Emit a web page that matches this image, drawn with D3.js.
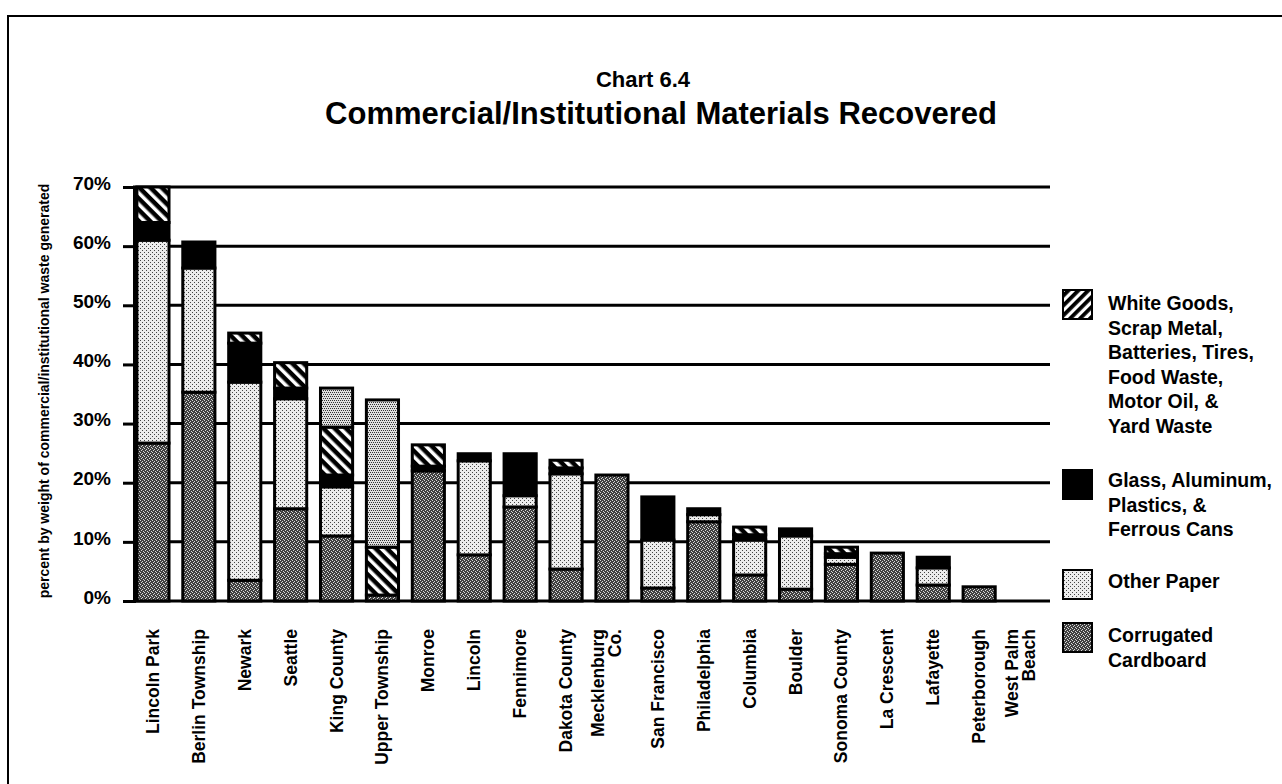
<!DOCTYPE html>
<html>
<head>
<meta charset="utf-8">
<script src="https://cdn.jsdelivr.net/npm/d3@7"></script>
<style>
  html, body { margin: 0; padding: 0; background: #fff; }
  svg { display: block; font-family: "Liberation Sans", Arial, Helvetica, sans-serif; font-weight: bold; }
</style>
</head>
<body>
<svg id="chart" width="1282" height="784"></svg>
<script>
// ---------- data ----------
const categories = ["Lincoln Park","Berlin Township","Newark","Seattle","King County","Upper Township","Monroe","Lincoln","Fennimore","Dakota County","Mecklenburg Co.","San Francisco","Philadelphia","Columbia","Boulder","Sonoma County","La Crescent","Lafayette","Peterborough","West Palm Beach"];
const categoryLabelLines = [["Lincoln Park"],["Berlin Township"],["Newark"],["Seattle"],["King County"],["Upper Township"],["Monroe"],["Lincoln"],["Fennimore"],["Dakota County"],["Mecklenburg","Co."],["San Francisco"],["Philadelphia"],["Columbia"],["Boulder"],["Sonoma County"],["La Crescent"],["Lafayette"],["Peterborough"],["West Palm","Beach"]];
const corrugatedCardboard = [26.7, 35.3, 3.5, 15.6, 11.0, 1.0, 22.0, 7.8, 15.9, 5.4, 21.3, 2.2, 13.4, 4.4, 2.0, 6.2, 8.1, 2.7, 2.4, 0];
const otherPaper          = [34.3, 21.0, 33.5, 18.6, 8.3, 0, 0, 15.9, 1.9, 16.1, 0, 8.1, 1.2, 5.9, 9.0, 1.2, 0, 2.9, 0, 0];
const glassAluminum       = [3.0, 4.4, 6.6, 1.8, 2.0, 0, 0.8, 1.2, 7.1, 1.0, 0, 7.3, 1.0, 0.9, 1.2, 0.6, 0, 1.8, 0, 0];
const whiteGoods          = [6.0, 0, 1.7, 4.3, 8.1, 8.1, 3.6, 0, 0, 1.3, 0, 0, 0, 1.3, 0, 1.1, 0, 0, 0, 0];
const otherMaterials      = [0, 0, 0, 0, 6.6, 24.9, 0, 0, 0, 0, 0, 0, 0, 0, 0, 0, 0, 0, 0, 0];
const yTicks = [0, 10, 20, 30, 40, 50, 60, 70];
const yTickLabels = ["0%","10%","20%","30%","40%","50%","60%","70%"];
const titleLine1 = "Chart 6.4";
const titleLine2 = "Commercial/Institutional Materials Recovered";
const yAxisTitle = "percent by weight of commercial/institutional waste generated";
const seriesKeys = ["corr","paper","glass","white","other"];
const legendItems = [
  {key:"white", lines:["White Goods,","Scrap Metal,","Batteries, Tires,","Food Waste,","Motor Oil, &","Yard Waste"]},
  {key:"glass", lines:["Glass, Aluminum,","Plastics, &","Ferrous Cans"]},
  {key:"paper", lines:["Other Paper"]},
  {key:"corr",  lines:["Corrugated","Cardboard"]}
];

// ---------- setup ----------
const svg = d3.select("#chart");
const defs = svg.append("defs");

function pixelPattern(id, bg, fg, size, pts) {
  const p = defs.append("pattern").attr("id", id).attr("patternUnits","userSpaceOnUse")
    .attr("width", size).attr("height", size);
  p.append("rect").attr("width", size).attr("height", size).attr("fill", bg);
  pts.forEach(([x,y]) => p.append("rect").attr("x", x).attr("y", y).attr("width",1).attr("height",1).attr("fill", fg));
}
pixelPattern("pat-corr", "#404040", "#d8d8d8", 4, [[0,0],[2,1],[1,2],[3,3]]);
pixelPattern("pat-paper", "#ececec", "#444444", 4, [[0,0],[2,2]]);
pixelPattern("pat-other", "#e0e0e0", "#333333", 4, [[0,0],[2,0],[1,2],[3,2]]);
function stripePattern(id, angle, bg, fg, w, sw) {
  const p = defs.append("pattern").attr("id", id).attr("patternUnits","userSpaceOnUse")
    .attr("width", w).attr("height", w).attr("patternTransform", `rotate(${angle})`);
  p.append("rect").attr("width", w).attr("height", w).attr("fill", bg);
  p.append("rect").attr("x", 0).attr("y", 0).attr("width", sw).attr("height", w).attr("fill", fg);
}
stripePattern("pat-white", -45, "#000", "#fff", 8, 3.5);
stripePattern("pat-white-legend", 45, "#fff", "#000", 7, 3.8);

const fills = {corr:"url(#pat-corr)", paper:"url(#pat-paper)", glass:"#000", white:"url(#pat-white)", other:"url(#pat-other)"};
const legendFills = {corr:"url(#pat-corr)", paper:"url(#pat-paper)", glass:"#000", white:"url(#pat-white-legend)"};

// frame
svg.append("line").attr("x1",8).attr("x2",8).attr("y1",15).attr("y2",784).attr("stroke","#000").attr("stroke-width",2);
svg.append("line").attr("x1",8).attr("x2",1282).attr("y1",16).attr("y2",16).attr("stroke","#000").attr("stroke-width",2);

// titles
svg.append("text").attr("x",643).attr("y",87).attr("text-anchor","middle").attr("font-size",22).text(titleLine1);
svg.append("text").attr("x",661).attr("y",124).attr("text-anchor","middle").attr("font-size",31).text(titleLine2);

// scales
const x = d3.scaleBand().domain(categories).range([130, 1048]).paddingInner(0.3).paddingOuter(0.15);
const y = d3.scaleLinear().domain([0, 70]).range([601, 187]);

// gridlines
svg.append("g").selectAll("line").data(yTicks).join("line")
  .attr("x1", 133).attr("x2", 1050)
  .attr("y1", d => y(d)).attr("y2", d => y(d))
  .attr("stroke","#000").attr("stroke-width",3);

// y axis
const yAxis = d3.axisLeft(y).tickValues(yTicks).tickSize(11).tickPadding(12)
  .tickFormat((d,i) => yTickLabels[i]);
const gy = svg.append("g").attr("transform","translate(134,0)").call(yAxis);
gy.select(".domain").attr("stroke","#000").attr("stroke-width",3);
gy.selectAll(".tick line").attr("stroke","#000").attr("stroke-width",3);
gy.selectAll(".tick text").attr("font-size",19).attr("font-weight","bold")
  .attr("font-family",'"Liberation Sans", Arial, sans-serif').attr("fill","#000").attr("dy","0.12em");
svg.append("line").attr("x1",137.5).attr("x2",137.5).attr("y1",187).attr("y2",601).attr("stroke","#000").attr("stroke-width",1.5);

// y title
svg.append("text").attr("transform","translate(49,391) rotate(-90)").attr("text-anchor","middle")
  .attr("font-size",14).text(yAxisTitle);

// stacked bars
const rows = categories.map((c,i) => ({cat:c, corr:corrugatedCardboard[i], paper:otherPaper[i], glass:glassAluminum[i], white:whiteGoods[i], other:otherMaterials[i]}));
const stacked = d3.stack().keys(seriesKeys)(rows);
const bars = svg.append("g");
stacked.forEach(layer => {
  bars.append("g").selectAll("rect").data(layer.filter(d => d[1] - d[0] > 0)).join("rect")
    .attr("x", d => x(d.data.cat))
    .attr("width", x.bandwidth())
    .attr("y", d => y(d[1]))
    .attr("height", d => y(d[0]) - y(d[1]))
    .attr("fill", fills[layer.key])
    .attr("stroke", "#000").attr("stroke-width", 3);
});

// x labels
const xl = svg.append("g");
categories.forEach((c,i) => {
  const lines = categoryLabelLines[i];
  const cx = x(c) + x.bandwidth()/2;
  const n = lines.length;
  lines.forEach((ln, j) => {
    const off = (j - (n-1)/2) * 17;
    xl.append("text")
      .attr("transform", `translate(${cx + off + (n > 1 ? 1 : 6)},629) rotate(-90)`)
      .attr("text-anchor","end").attr("font-size",17.5).text(ln);
  });
});

// legend
const legendLayout = [
  {sy:290, by:310},
  {sy:470, by:487},
  {sy:570, by:588},
  {sy:623, by:642}
];
const lg = svg.append("g");
legendItems.forEach((item, i) => {
  const L = legendLayout[i];
  lg.append("rect").attr("x",1063).attr("y",L.sy).attr("width",29).attr("height",29)
    .attr("fill", legendFills[item.key]).attr("stroke","#000").attr("stroke-width",2);
  item.lines.forEach((t, j) => {
    lg.append("text").attr("x",1108).attr("y", L.by + j*24.5).attr("font-size",19.5).text(t);
  });
});
</script>
</body>
</html>
